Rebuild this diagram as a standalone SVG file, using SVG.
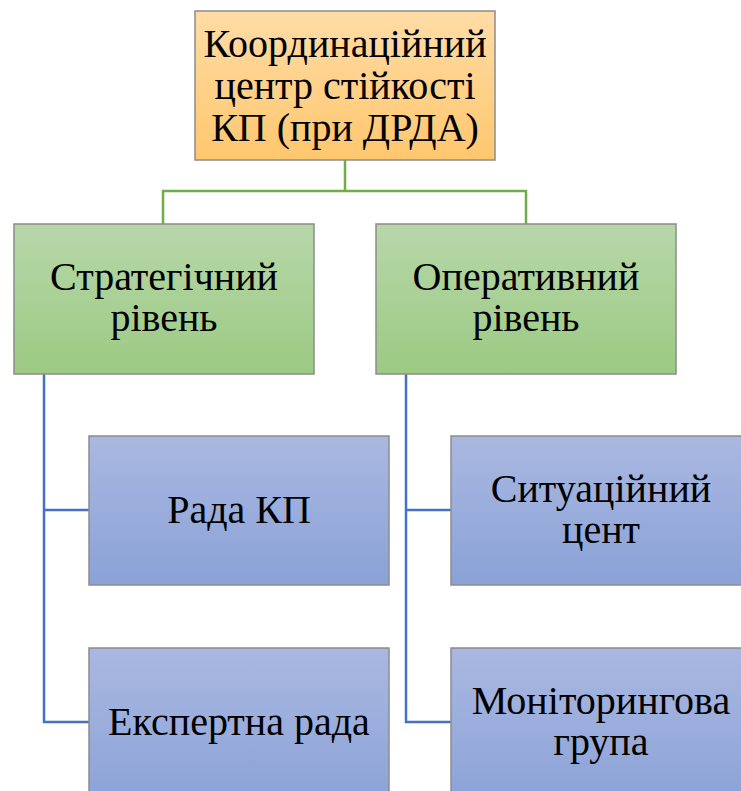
<svg xmlns="http://www.w3.org/2000/svg" width="741" height="791" viewBox="0 0 741 791">
<defs>
<linearGradient id="gO" x1="0" y1="0" x2="0" y2="1"><stop offset="0" stop-color="#FFDCA6"/><stop offset="1" stop-color="#FFC76E"/></linearGradient>
<linearGradient id="gG" x1="0" y1="0" x2="0" y2="1"><stop offset="0" stop-color="#B7D7A9"/><stop offset="1" stop-color="#9CCA83"/></linearGradient>
<linearGradient id="gB" x1="0" y1="0" x2="0" y2="1"><stop offset="0" stop-color="#AAB8E1"/><stop offset="1" stop-color="#8AA2D7"/></linearGradient>
<style>
.box{stroke:#8C8C8C;stroke-width:1.5}
.t{font-family:"Liberation Serif",serif;font-size:40px;fill:#000;text-anchor:middle}
.cg{fill:none;stroke:#70AD47;stroke-width:2.5}
.cb{fill:none;stroke:#4472C4;stroke-width:2.5}
</style>
</defs>
<g id="connectors">
<path class="cg" d="M345 160V191M163 224V191H526V224"/>
<path class="cb" d="M44 374V722H89M44 510H89"/>
<path class="cb" d="M406 374V722H451M406 510H451"/>
</g>
<g id="n0"><rect class="box" x="195" y="11" width="300" height="149" fill="url(#gO)"/>
<text class="t" x="345" y="57">Координаційний</text><text class="t" x="345" y="99">центр стійкості</text><text class="t" x="345" y="141">КП (при ДРДА)</text></g>
<g id="n1"><rect class="box" x="14" y="224" width="300" height="150" fill="url(#gG)"/>
<text class="t" x="164" y="290">Стратегічний</text><text class="t" x="164" y="331">рівень</text></g>
<g id="n2"><rect class="box" x="376" y="224" width="300" height="150" fill="url(#gG)"/>
<text class="t" x="526" y="290">Оперативний</text><text class="t" x="526" y="331">рівень</text></g>
<g id="n3"><rect class="box" x="89" y="436" width="300" height="149" fill="url(#gB)"/>
<text class="t" x="239" y="523">Рада КП</text></g>
<g id="n4"><rect class="box" x="89" y="648" width="300" height="160" fill="url(#gB)"/>
<text class="t" x="239" y="735">Експертна рада</text></g>
<g id="n5"><rect class="box" x="451" y="436" width="300" height="149" fill="url(#gB)"/>
<text class="t" x="601" y="502">Ситуаційний</text><text class="t" x="601" y="543">цент</text></g>
<g id="n6"><rect class="box" x="451" y="648" width="300" height="160" fill="url(#gB)"/>
<text class="t" x="601" y="714">Моніторингова</text><text class="t" x="601" y="755">група</text></g>
</svg>
